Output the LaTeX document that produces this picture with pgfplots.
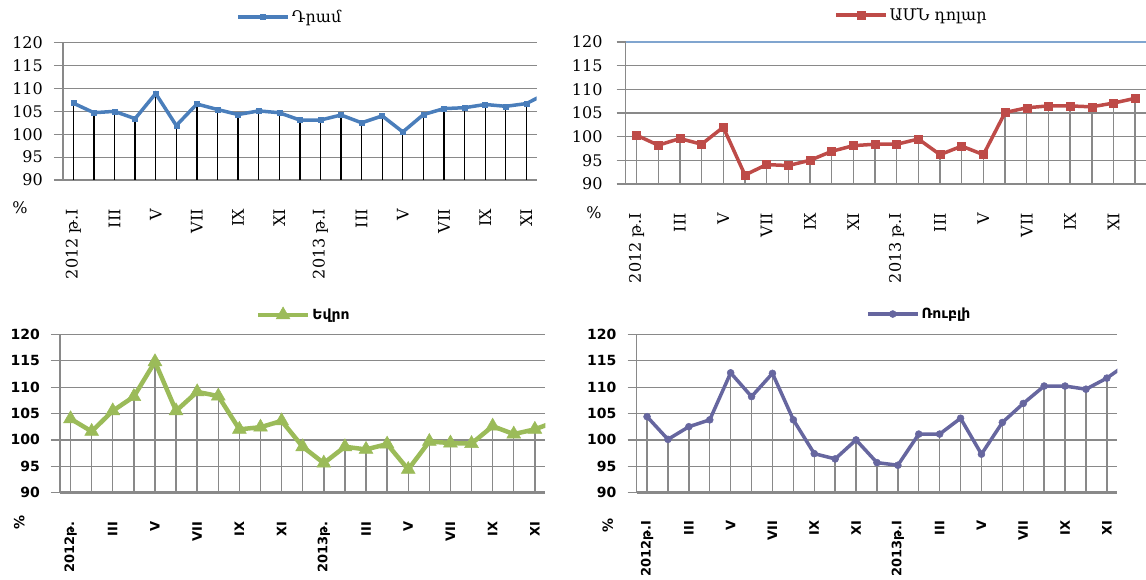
\documentclass[border=0pt]{standalone}
\usepackage{fontspec}
\setmainfont{DejaVu Serif}
\newfontfamily\dvsans{DejaVu Sans}
\usepackage{pgfplots}
\usepackage{pgfplotstable}
\pgfplotsset{compat=1.18}

\definecolor{dramc}{HTML}{4A7EBB}
\definecolor{usdc}{HTML}{BE4B48}
\definecolor{eurc}{HTML}{9BBB59}
\definecolor{rubc}{HTML}{66669F}
\definecolor{gridc}{HTML}{898989}

% month index, Dram, USD, Euro, Ruble (2012 I ... 2013 XII)
\pgfplotstableread{
x dram usd eur rub
0  106.8 100.3 104.0 104.4
1  104.7  98.2 101.6 100.1
2  105.0  99.6 105.5 102.5
3  103.4  98.4 108.2 103.8
4  108.9 102.0 114.8 112.7
5  101.9  91.9 105.5 108.2
6  106.6  94.1 109.1 112.6
7  105.4  93.9 108.3 103.8
8  104.3  95.0 102.0  97.4
9  105.1  96.9 102.4  96.4
10 104.7  98.1 103.6 100.0
11 103.1  98.4  98.7  95.7
12 103.1  98.4  95.6  95.2
13 104.2  99.5  98.7 101.1
14 102.5  96.2  98.2 101.1
15 104.0  98.0  99.2 104.1
16 100.5  96.2  94.4  97.3
17 104.3 105.1  99.7 103.3
18 105.6 106.1  99.4 106.9
19 105.8 106.5  99.3 110.2
20 106.5 106.5 102.6 110.2
21 106.1 106.3 101.1 109.6
22 106.7 107.1 102.0 111.7
23 109.0 108.1 103.5 114.5
}\rates

\newcommand\topfont{\fontsize{16}{18}\selectfont}
\newcommand\botfont{\dvsans\bfseries\fontsize{14}{16}\selectfont}
\newcommand\botxfont{\dvsans\bfseries\fontsize{13}{15}\selectfont}

\pgfplotsset{
  panel/.style={
    scale only axis,
    xmin=-0.5,
    ymin=90, ymax=120,
    ytick={90,95,...,120},
    xtick={0,2,...,22},
    ymajorgrids,
    grid style={gridc, line width=1.2pt},
    axis lines=left,
    axis line style={-, gridc, line width=1.2pt},
    tick align=outside,
    major tick length=9pt,
    ytick style={gridc, line width=1.2pt},
    xtick style={draw=none},
    clip marker paths=true,
    /pgf/number format/assume math mode=true,
    yticklabel style={anchor=east, inner sep=0pt},
    xticklabel style={rotate=90, anchor=east, inner sep=0pt},
    legend style={draw=none, fill=none, anchor=center, inner sep=0pt,
      /tikz/every even column/.append style={column sep=4pt}},
    legend image code/.code={
      \draw[mark repeat=2, mark phase=2, ##1] plot coordinates {(0pt,0pt) (25pt,0pt) (50pt,0pt)};},
  },
  toprow/.style={
    ticklabel style={font=\topfont},
    legend style={font=\topfont},
    xticklabels={2012 թ.I, III, V, VII, IX, XI, 2013 թ.I, III, V, VII, IX, XI},
  },
  botrow/.style={
    yticklabel style={font=\botfont},
    xticklabel style={font=\botxfont},
    legend style={font=\botfont},
    x axis line style={line width=2.5pt},
  },
}

\begin{document}
\begin{tikzpicture}
\useasboundingbox (0,0) rectangle (1146pt,579pt);

% Dram
\begin{axis}[panel, toprow, at={(63pt,399pt)}, anchor=south west,
  width=473.7pt, height=137.3pt, xmax=22.5,
  xticklabel shift=20pt, yticklabel shift=11pt,
  legend style={at={(0.479,1.187)}},
  extra description/.code={\node[font=\topfont] at (-0.091,-0.204) {\%};}]
\addplot[ycomb, black, line width=1.3pt, forget plot] table[x=x, y=dram] {\rates};
\addplot[dramc, line width=3.5pt, mark=square*, mark size=2.5pt,
  mark options={line width=0.5pt}] table[x=x, y=dram] {\rates};
\addlegendentry{Դրամ}
\end{axis}

% USD
\begin{axis}[panel, toprow, at={(625.7pt,395pt)}, anchor=south west,
  width=520.3pt, height=142pt, xmax=23.5,
  xticklabel shift=20pt, yticklabel shift=14pt,
  legend style={at={(0.549,1.19)}},
  extra description/.code={
    \draw[dramc!70, line width=1.2pt] (0,1) -- (1,1);
    \node[font=\topfont] at (-0.061,-0.204) {\%};}]
\addplot[ycomb, gridc, line width=1.4pt, forget plot] table[x=x, y=usd] {\rates};
\addplot[usdc, line width=3.5pt, mark=square*, mark size=4pt,
  mark options={line width=0.5pt}] table[x=x, y=usd] {\rates};
\addlegendentry{ԱՄՆ դոլար}
\end{axis}

% Euro
\begin{axis}[panel, botrow, at={(60pt,86.3pt)}, anchor=south west,
  width=485.4pt, height=158.4pt, xmax=22.5,
  xticklabels={2012թ., III, V, VII, IX, XI, 2013թ., III, V, VII, IX, XI},
  xticklabel shift=20pt, yticklabel shift=11pt,
  legend style={at={(0.502,1.122)}},
  extra description/.code={\node[font=\botfont, rotate=90] at (-0.084,-0.19) {\%};}]
\addplot[ycomb, gridc, line width=1.4pt, forget plot] table[x=x, y=eur] {\rates};
\addplot[eurc, line width=4.5pt, mark=triangle*, mark size=8pt,
  mark options={line width=0.5pt}] table[x=x, y=eur] {\rates};
\addlegendentry{Եվրո}
\end{axis}

% Ruble
\begin{axis}[panel, botrow, at={(636.6pt,86.3pt)}, anchor=south west,
  width=480.7pt, height=158.4pt, xmax=22.5,
  xticklabels={2012թ.I, III, V, VII, IX, XI, 2013թ.I, III, V, VII, IX, XI},
  xticklabel shift=19pt, yticklabel shift=11pt,
  legend style={at={(0.588,1.128)}},
  extra description/.code={\node[font=\botfont, rotate=90] at (-0.06,-0.205) {\%};}]
\addplot[ycomb, gridc, line width=1.4pt, forget plot] table[x=x, y=rub] {\rates};
\addplot[rubc, line width=3.5pt, mark=*, mark size=3.5pt,
  mark options={line width=0.5pt}] table[x=x, y=rub] {\rates};
\addlegendentry{Ռուբլի}
\end{axis}
\end{tikzpicture}
\end{document}
